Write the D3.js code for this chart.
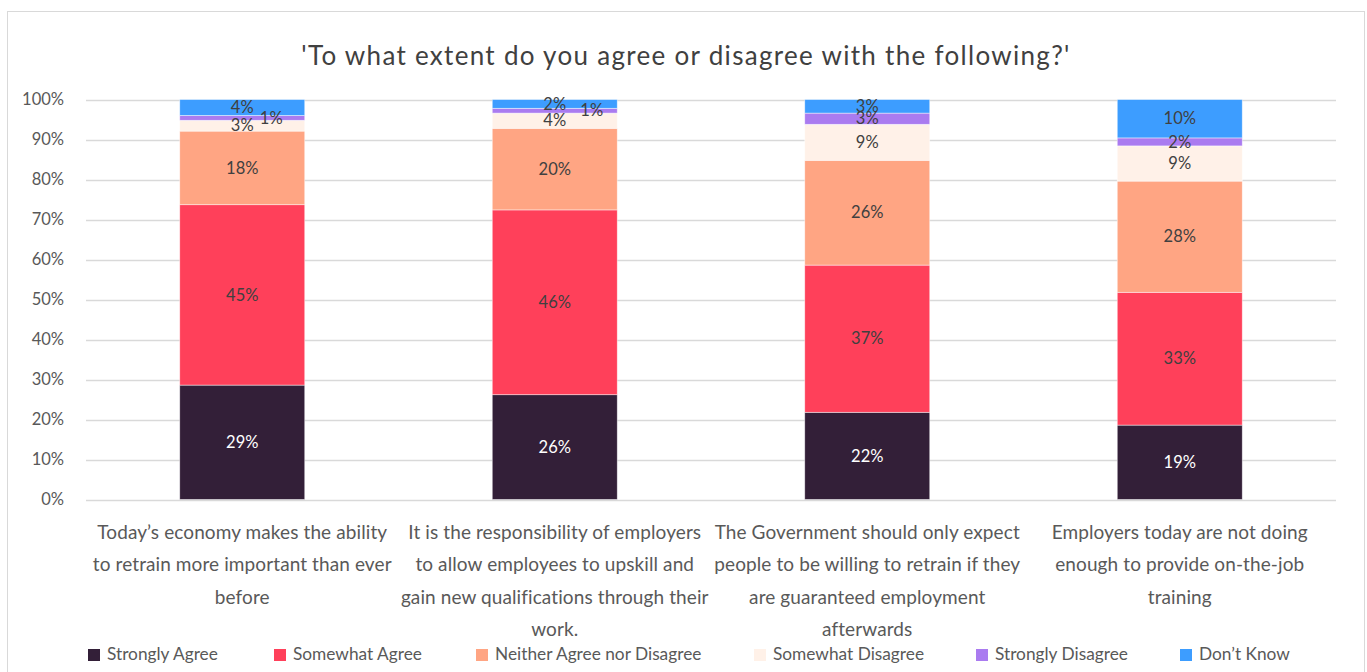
<!DOCTYPE html>
<html>
<head>
<meta charset="utf-8">
<script src="https://cdn.jsdelivr.net/npm/d3@7/dist/d3.min.js"></script>
<style>
  html, body { margin: 0; padding: 0; background: #fff; }
  svg { display: block; font-family: Lato, "Open Sans", sans-serif; }
</style>
</head>
<body>
<svg id="chart" width="1367" height="672"></svg>
<script>
// Survey statements (x categories), line breaks as shown under each bar
const categories = [
  "Today\u2019s economy makes the ability\nto retrain more important than ever\nbefore",
  "It is the responsibility of employers\nto allow employees to upskill and\ngain new qualifications through their\nwork.",
  "The Government should only expect\npeople to be willing to retrain if they\nare guaranteed employment\nafterwards",
  "Employers today are not doing\nenough to provide on-the-job\ntraining"
];

// Response options, bottom to top of each stack
const seriesNames = ["Strongly Agree", "Somewhat Agree", "Neither Agree nor Disagree",
                     "Somewhat Disagree", "Strongly Disagree", "Don\u2019t Know"];

// Share of respondents (%) per statement, one array per response option
const stronglyAgree    = [28.6, 26.2, 21.8, 18.6];
const somewhatAgree    = [45.1, 46.2, 36.8, 33.2];
const neither          = [18.4, 20.4, 26.2, 27.8];
const somewhatDisagree = [2.7, 3.8, 9.0, 8.8];
const stronglyDisagree = [1.2, 1.2, 2.8, 2.0];
const dontKnow         = [4.0, 2.2, 3.4, 9.6];

const yTicks = [0, 10, 20, 30, 40, 50, 60, 70, 80, 90, 100];

const colors = ["#331f38", "#ff405a", "#ffa583", "#fff1e8", "#aa7bf0", "#3d9dff"];
const labelColors = ["#ffffff", "#404040", "#404040", "#404040", "#404040", "#404040"];

// Horizontal nudges for small labels that would otherwise overlap
const labelNudge = { "4-0": 29, "4-1": 37 };

const seriesValues = [stronglyAgree, somewhatAgree, neither, somewhatDisagree, stronglyDisagree, dontKnow];
const rows = categories.map((c, i) => {
  const r = { cat: c };
  seriesNames.forEach((s, k) => { r[s] = seriesValues[k][i]; });
  return r;
});
const stacked = d3.stack().keys(seriesNames)(rows);

const svg = d3.select("#chart");
const margin = { left: 86, right: 1336, top: 99.5, bottom: 499.5 };

// Outer chart frame
svg.append("rect")
  .attr("x", 7.5).attr("y", 11.5).attr("width", 1357).attr("height", 680)
  .attr("fill", "#fff").attr("stroke", "#d9d9d9").attr("stroke-width", 1);

svg.append("text")
  .attr("x", 686).attr("y", 65)
  .attr("text-anchor", "middle")
  .attr("font-size", 26)
  .attr("letter-spacing", 1.3)
  .attr("fill", "#404040")
  .text("'To what extent do you agree or disagree with the following?'");

const x = d3.scaleBand().domain(categories).range([margin.left, margin.right]).paddingInner(0.6).paddingOuter(0.3);
const y = d3.scaleLinear().domain([0, 100]).range([margin.bottom, margin.top]);

// Gridlines
svg.append("g")
  .selectAll("line").data(yTicks).join("line")
  .attr("x1", margin.left).attr("x2", margin.right)
  .attr("y1", d => Math.round(y(d)) + 0.5).attr("y2", d => Math.round(y(d)) + 0.5)
  .attr("stroke", "#d9d9d9").attr("stroke-width", 1.3);

// Y axis labels
const yAxis = svg.append("g").attr("transform", `translate(${margin.left - 22},0)`)
  .call(d3.axisLeft(y).tickValues(yTicks).tickFormat(d => d + "%").tickSize(0).tickPadding(0));
yAxis.select(".domain").remove();
yAxis.selectAll("text").attr("font-size", 16.5).attr("fill", "#595959")
  .attr("font-family", "Lato, 'Open Sans', sans-serif");

// Bars
const layers = svg.append("g").selectAll("g").data(stacked).join("g")
  .attr("fill", (d, i) => colors[i]);
layers.selectAll("rect").data(d => d).join("rect")
  .attr("x", d => x(d.data.cat))
  .attr("width", x.bandwidth())
  .attr("y", d => y(d[1]))
  .attr("height", d => y(d[0]) - y(d[1]))
  .attr("stroke", "#ffffff").attr("stroke-opacity", 0.6).attr("stroke-width", 0.75);

// Value labels
stacked.forEach((layer, k) => {
  svg.append("g").selectAll("text").data(layer).join("text")
    .attr("x", (d, i) => x(d.data.cat) + x.bandwidth() / 2 + (labelNudge[k + "-" + i] || 0))
    .attr("y", d => y((d[0] + d[1]) / 2))
    .attr("dy", "0.35em")
    .attr("text-anchor", "middle")
    .attr("font-size", 16.5)
    .attr("fill", labelColors[k])
    .text(d => Math.round(d[1] - d[0]) + "%");
});

// X axis category labels
const xLabels = svg.append("g").selectAll("text").data(categories).join("text")
  .attr("x", d => x(d) + x.bandwidth() / 2)
  .attr("y", 539)
  .attr("text-anchor", "middle")
  .attr("font-size", 19)
  .attr("letter-spacing", 0.1)
  .attr("fill", "#595959");
xLabels.each(function (d) {
  const t = d3.select(this);
  d.split("\n").forEach((line, i) => {
    t.append("tspan").attr("x", x(d) + x.bandwidth() / 2).attr("dy", i === 0 ? 0 : 32.3).text(line);
  });
});

// Legend
const legendX = [88, 274, 476, 754, 976, 1180];
const legend = svg.append("g").selectAll("g").data(seriesNames).join("g")
  .attr("transform", (d, i) => `translate(${legendX[i]},646)`);
legend.append("rect").attr("width", 12).attr("height", 12).attr("y", 3)
  .attr("fill", (d, i) => colors[i]);
legend.append("text").attr("x", 19).attr("y", 8).attr("dy", "0.35em")
  .attr("font-size", 17.3).attr("fill", "#595959").text(d => d);
</script>
</body>
</html>
